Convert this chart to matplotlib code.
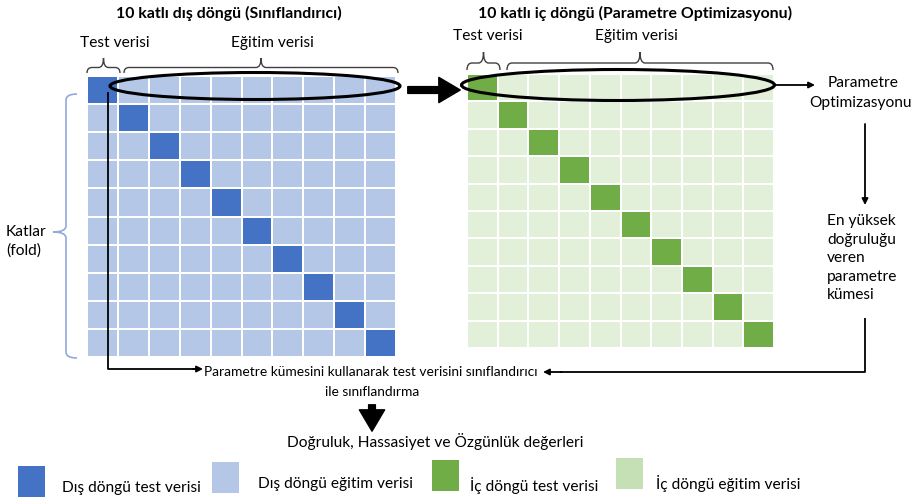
import numpy as np
import matplotlib
matplotlib.use("Agg")
import matplotlib.pyplot as plt
from matplotlib.colors import ListedColormap
from matplotlib.path import Path
from matplotlib.patches import PathPatch, Ellipse, FancyArrowPatch, Rectangle

plt.rcParams['font.family'] = ['Lato', 'DejaVu Sans']

# ---- data ----
n_folds = 10
outer_test_col = [0, 1, 2, 3, 4, 5, 6, 7, 8, 9]   # test fold per row (outer loop)
inner_test_col = [0, 1, 2, 3, 4, 5, 6, 7, 8, 9]   # test fold per row (inner loop)
title_outer = "10 katlı dış döngü (Sınıflandırıcı)"
title_inner = "10 katlı iç döngü (Parametre Optimizasyonu)"
legend_labels = ["Dış döngü test verisi", "Dış döngü eğitim verisi",
                 "İç döngü test verisi", "İç döngü eğitim verisi"]
legend_colors = ["#4472C4", "#B4C7E7", "#70AD47", "#C5E0B4"]

C_DBLUE, C_LBLUE, C_DGREEN, C_LGREEN = "#4472C4", "#B4C7E7", "#70AD47", "#E2F0D9"
FS = 11.2

fig = plt.figure(figsize=(9.18, 5.04), dpi=100)
ax = fig.add_axes([0, 0, 1, 1])
ax.set_xlim(0, 918)
ax.set_ylim(504, 0)
ax.axis('off')

def fold_matrix(test_cols):
    m = np.zeros((n_folds, n_folds))
    for i, c in enumerate(test_cols):
        m[i, c] = 1
    return m

def draw_grid(mat, x0, x1, y0, y1, light, dark):
    xe = np.linspace(x0, x1, n_folds + 1)
    ye = np.linspace(y0, y1, n_folds + 1)
    ax.pcolormesh(xe, ye, mat, cmap=ListedColormap([light, dark]), vmin=0, vmax=1,
                  edgecolors='white', linewidth=1.4, zorder=1)

draw_grid(fold_matrix(outer_test_col), 87, 396, 76, 357, C_LBLUE, C_DBLUE)
draw_grid(fold_matrix(inner_test_col), 467, 774, 74, 348, C_LGREEN, C_DGREEN)

def hbrace(x0, x1, yb, yt, color='#404040', lw=1.0, r=5):
    xm = (x0 + x1) / 2
    ym = (yb + yt) / 2 + 2
    verts = [(x0, yb), (x0, ym), (x0 + r, ym),
             (xm - r, ym), (xm, ym), (xm, yt),
             (xm, ym), (xm + r, ym),
             (x1 - r, ym), (x1, ym), (x1, yb)]
    codes = [Path.MOVETO, Path.CURVE3, Path.CURVE3,
             Path.LINETO, Path.CURVE3, Path.CURVE3,
             Path.CURVE3, Path.CURVE3,
             Path.LINETO, Path.CURVE3, Path.CURVE3]
    ax.add_patch(PathPatch(Path(verts, codes), fill=False, ec=color, lw=lw, zorder=3))

def vbrace(y0, y1, ym, xr, xl, color='#8FAADC', lw=1.2, r=6):
    xm = (xr + xl) / 2 + 1
    verts = [(xr, y0), (xm, y0), (xm, y0 + r),
             (xm, ym - r), (xm, ym), (xl, ym),
             (xm, ym), (xm, ym + r),
             (xm, y1 - r), (xm, y1), (xr, y1)]
    codes = [Path.MOVETO, Path.CURVE3, Path.CURVE3,
             Path.LINETO, Path.CURVE3, Path.CURVE3,
             Path.CURVE3, Path.CURVE3,
             Path.LINETO, Path.CURVE3, Path.CURVE3]
    ax.add_patch(PathPatch(Path(verts, codes), fill=False, ec=color, lw=lw, zorder=3))

# titles
ax.text(229, 13, title_outer, ha='center', va='center', fontsize=11.4, fontweight='bold')
ax.text(635, 13, title_inner, ha='center', va='center', fontsize=11.4, fontweight='bold')

# braces and labels above grids
hbrace(87, 120, 73, 58)
hbrace(124, 398, 73, 58)
ax.text(115, 43, "Test verisi", ha='center', va='center', fontsize=FS)
ax.text(272, 43, "Eğitim verisi", ha='center', va='center', fontsize=FS)

hbrace(467, 500, 70, 52)
hbrace(507, 773, 70, 52)
ax.text(488, 36, "Test verisi", ha='center', va='center', fontsize=FS)
ax.text(636, 36, "Eğitim verisi", ha='center', va='center', fontsize=FS)

# ellipses
ax.add_patch(Ellipse((255, 86), 290, 27, fill=False, ec='black', lw=2.2, zorder=4))
ax.add_patch(Ellipse((618, 85), 313, 31, fill=False, ec='black', lw=2.2, zorder=4))

# thick arrow between grids
ax.add_patch(FancyArrowPatch((405, 90), (463, 90),
             arrowstyle="simple,head_length=1.1,head_width=1.3,tail_width=0.35",
             mutation_scale=14, color='black', zorder=5))

def thin_arrow(p0, p1):
    ax.annotate("", xy=p1, xytext=p0,
                arrowprops=dict(arrowstyle="-|>", color='black', lw=1.3,
                                mutation_scale=9, shrinkA=0, shrinkB=0), zorder=5)

# arrow to "Parametre Optimizasyonu"
thin_arrow((775, 85), (815, 85))
ax.text(863, 83, "Parametre", ha='center', va='center', fontsize=FS)
ax.text(860, 103, "Optimizasyonu", ha='center', va='center', fontsize=FS)

# down arrow to parameter set text
thin_arrow((865, 124), (865, 205))
ax.text(827, 214, "En yüksek\ndoğruluğu\nveren\nparametre\nkümesi", ha='left', va='top',
        fontsize=FS, linespacing=1.42)

# path from parameter set to classification text
ax.plot([865, 865, 560], [318, 372, 372], color='black', lw=1.3, solid_capstyle='butt', zorder=5)
thin_arrow((562, 372), (543, 372))

# path from outer test cell to classification text
ax.plot([108, 108, 195], [92, 369, 369], color='black', lw=1.3, solid_capstyle='butt', zorder=5)
thin_arrow((193, 369), (203, 369))

ax.text(371, 372, "Parametre kümesini kullanarak test verisini sınıflandırıcı",
        ha='center', va='center', fontsize=9.9)
ax.text(372, 392, "ile sınıflandırma", ha='center', va='center', fontsize=9.9)

# thick down arrow
ax.add_patch(FancyArrowPatch((372, 402), (372, 434),
             arrowstyle="simple,head_length=1.1,head_width=1.3,tail_width=0.35",
             mutation_scale=14, color='black', zorder=5))
ax.text(435, 442, "Doğruluk, Hassasiyet ve Özgünlük değerleri", ha='center', va='center',
        fontsize=FS)

# Katlar brace
vbrace(94, 358, 232, 77, 53)
ax.text(6, 241, "Katlar\n(fold)", ha='left', va='center', fontsize=FS,
        linespacing=1.4)

# legend
leg_sq = [(18, 466), (212, 462), (432, 460), (616, 458)]
leg_txt = [(62, 488), (258, 484), (470, 486), (656, 484)]
for (sx, sy), (tx, ty), lab, col in zip(leg_sq, leg_txt, legend_labels, legend_colors):
    ax.add_patch(Rectangle((sx, sy), 27, 31, facecolor=col, edgecolor='none', zorder=2))
    ax.text(tx, ty, lab, ha='left', va='center', fontsize=FS)

fig.savefig("out.png", dpi=100)
